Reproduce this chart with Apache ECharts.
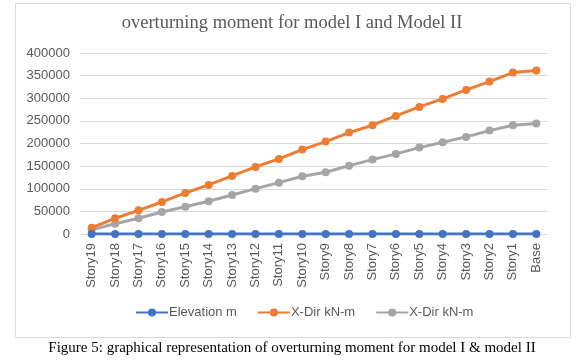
<!DOCTYPE html>
<html><head><meta charset="utf-8">
<script src="https://cdn.jsdelivr.net/npm/echarts@6/dist/echarts.min.js"></script>
<style>html,body{margin:0;padding:0;background:#fff}#c{width:584px;height:362px}</style>
</head><body><div id="c"></div>
<script>
var categories = ['Story19','Story18','Story17','Story16','Story15','Story14','Story13','Story12','Story11','Story10','Story9','Story8','Story7','Story6','Story5','Story4','Story3','Story2','Story1','Base'];
var elevation = [57,54,51,48,45,42,39,36,33,30,27,24,21,18,15,12,9,6,3,0];
var modelI = [14000,34700,52400,70800,90700,108400,128300,148200,165900,186500,204200,224100,240400,261000,280900,298600,318500,336900,356800,361300];
var modelII = [9500,22800,34700,48700,60400,72300,86300,100200,113500,127600,136500,151100,164400,177000,190900,202800,214600,228500,240400,244000];
var seriesNames = ['Elevation m','X-Dir kN-m','X-Dir kN-m '];
var yTicks = {min:0, max:400000, interval:50000};
var chartTitle = 'overturning moment for model I and Model II';
var caption = 'Figure 5: graphical representation of overturning moment for model I & model II';

var chart = echarts.init(document.getElementById('c'));
var colors = ['#4472C4','#ED7D31','#A5A5A5'];
function mk(name, data, i, z){
  return {name:name, type:'line', data:data, symbol:'circle', symbolSize:8, z:z,
    lineStyle:{width:3, color:colors[i]}, itemStyle:{color:colors[i]}, animation:false};
}
chart.setOption({
  animation:false,
  title:{text:chartTitle, left:'center', top:9,
    textStyle:{fontFamily:'Liberation Serif', fontSize:18.5, fontWeight:'normal', color:'#595959'}},
  grid:{left:80, right:36, top:53, bottom:128},
  legend:{top:301, left:130, itemGap:20, itemWidth:32, itemHeight:10,
    textStyle:{fontFamily:'Liberation Sans', fontSize:13, color:'#595959', padding:[0,0,0,-4]},
    data:seriesNames},
  xAxis:{type:'category', data:categories, boundaryGap:true,
    axisLine:{show:false}, axisTick:{show:false},
    axisLabel:{rotate:90, interval:0, fontFamily:'Liberation Sans', fontSize:13, color:'#595959', margin:9}},
  yAxis:{type:'value', min:yTicks.min, max:yTicks.max, interval:yTicks.interval,
    axisLine:{show:false}, axisTick:{show:false},
    axisLabel:{fontFamily:'Liberation Sans', fontSize:13, color:'#595959', margin:10,
      formatter:function(v){return String(v);}},
    splitLine:{lineStyle:{color:'#D9D9D9', width:1}}},
  series:[mk(seriesNames[2], modelII, 2, 2), mk(seriesNames[1], modelI, 1, 3), mk(seriesNames[0], elevation, 0, 4)],
  graphic:[
    {type:'rect', shape:{x:15.5, y:3.5, width:555, height:334}, style:{fill:'none', stroke:'#D9D9D9', lineWidth:1}, silent:true},
    {type:'text', left:'center', top:341, style:{text:caption, fontFamily:'Liberation Serif', fontSize:15, fill:'#000'}}
  ]
});
</script></body></html>
